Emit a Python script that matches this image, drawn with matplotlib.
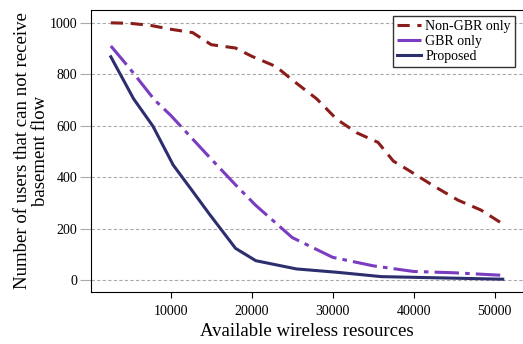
import matplotlib.pyplot as plt

# data
non_gbr_x = [2600, 5000, 7500, 10000, 12700, 15000, 18000, 20000, 23000, 25000,
             28000, 30500, 33000, 35600, 37500, 39300, 42500, 45500, 48300, 51000]
non_gbr_y = [1000, 998, 990, 975, 962, 915, 902, 870, 830, 778,
             705, 625, 572, 535, 462, 428, 365, 310, 272, 218]

gbr_x = [2600, 5000, 8000, 10000, 12500, 15000, 18000, 20500, 25000, 30000,
         35000, 40000, 45000, 51000]
gbr_y = [910, 820, 700, 640, 555, 470, 370, 290, 165, 88, 55, 33, 28, 18]

prop_x = [2600, 5400, 7800, 10300, 12700, 14800, 18000, 20500, 25500, 30500,
          36000, 51000]
prop_y = [868, 705, 598, 447, 345, 255, 123, 75, 43, 30, 13, 3]

xticks = [10000, 20000, 30000, 40000, 50000]
yticks = [0, 200, 400, 600, 800, 1000]

plt.rcParams['font.family'] = ['Liberation Serif', 'DejaVu Serif']

fig = plt.figure(figsize=(5.23, 3.44), dpi=100)
ax = fig.add_axes([0.174, 0.151, 0.826, 0.82])

for y in yticks:
    ax.axhline(y, color='#aaaaaa', lw=0.8, ls=(0, (3, 2)), zorder=0)

ax.plot(non_gbr_x, non_gbr_y, color='#8b1c1c', lw=2.2, ls=(0, (4, 2.5)),
        label='Non-GBR only')
ax.plot(gbr_x, gbr_y, color='#7a3cc0', lw=2.2, ls=(0, (8, 2, 1.5, 2)),
        label='GBR only')
ax.plot(prop_x, prop_y, color='#2c2e6e', lw=2.2, label='Proposed')

ax.set_xlim(150, 53500)
ax.set_ylim(-47, 1050)
ax.set_xticks(xticks)
ax.set_yticks(yticks)
ax.tick_params(axis='y', length=8, color='#aaaaaa', labelsize=10, pad=2)
ax.tick_params(axis='x', length=4, labelsize=10, pad=5)
ax.spines['right'].set_visible(False)

ax.set_xlabel('Available wireless resources', fontsize=13.5, labelpad=4)
ax.set_ylabel('Number of users that can not receive\nbasement flow',
              fontsize=13.5, labelpad=0, linespacing=1.1)

leg = ax.legend(loc='upper right', bbox_to_anchor=(0.988, 0.99), fontsize=10,
                fancybox=False, edgecolor='#333333', framealpha=1,
                handlelength=1.7, handletextpad=0.3, borderpad=0.3,
                labelspacing=0.15, borderaxespad=0.2)
leg.get_frame().set_linewidth(1.0)

fig.savefig('out.png', dpi=100)
